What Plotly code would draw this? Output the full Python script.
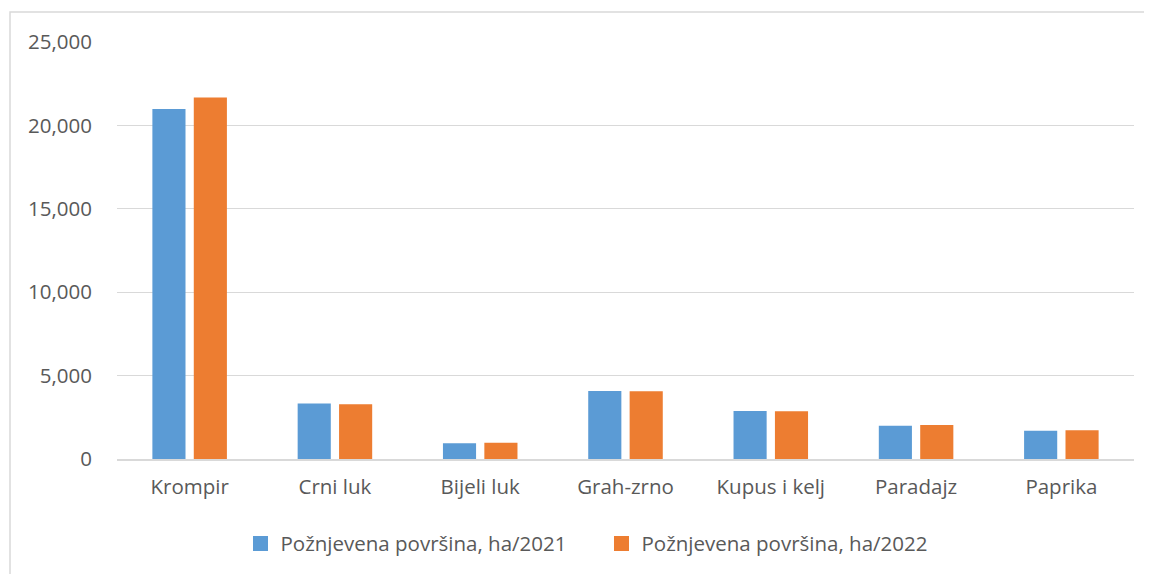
import plotly.graph_objects as go

categories = ["Krompir", "Crni luk", "Bijeli luk", "Grah-zrno", "Kupus i kelj", "Paradajz", "Paprika"]
values_2021 = [20980, 3320, 940, 4080, 2880, 2000, 1700]
values_2022 = [21680, 3280, 980, 4060, 2860, 2040, 1720]
series_names = ["Požnjevena površina, ha/2021", "Požnjevena površina, ha/2022"]
series_colors = ["#5b9bd5", "#ed7d31"]
tick_vals = [0, 5000, 10000, 15000, 20000, 25000]
tick_text = ["0", "5,000", "10,000", "15,000", "20,000", "25,000"]

FONT = "Open Sans, Calibri, sans-serif"
TXT = "#595959"
FS = 20.5

fig = go.Figure()
for vals, name, col in zip([values_2021, values_2022], series_names, series_colors):
    fig.add_trace(go.Bar(x=categories, y=vals, name=name, showlegend=False,
                         marker=dict(color=col, line=dict(width=0))))
# legend entries with larger square swatches
for name, col in zip(series_names, series_colors):
    fig.add_trace(go.Scatter(x=[None], y=[None], mode="markers", name=name,
                             marker=dict(symbol="square", size=15, color=col)))

fig.update_layout(
    width=1152, height=574,
    margin=dict(l=109, r=26, t=34, b=123, autoexpand=False),
    paper_bgcolor="white", plot_bgcolor="white",
    barmode="group", bargap=0.43, bargroupgap=0.2,
    font=dict(family=FONT, size=FS, color=TXT),
    showlegend=True,
    legend=dict(orientation="h", x=0.4764, xanchor="center", y=-0.155, yanchor="top",
                font=dict(size=FS, color=TXT), itemwidth=30, traceorder="normal",
                tracegroupgap=0, entrywidth=316, entrywidthmode="pixels"),
    xaxis=dict(showgrid=False, showline=True, linecolor="#d9d9d9", linewidth=2,
               ticks="", tickfont=dict(size=FS, color=TXT), automargin=False,
               ticklabelstandoff=8),
    yaxis=dict(range=[0, 25000], tickvals=tick_vals, ticktext=tick_text,
               showgrid=True, gridcolor="#d9d9d9", gridwidth=1, zeroline=False,
               showline=False, ticks="", ticklabelstandoff=24, automargin=False,
               tickfont=dict(size=FS, color=TXT)),
    shapes=[dict(type="rect", xref="paper", yref="paper",
                 x0=-0.1052, x1=1.3, y0=-0.5, y1=1.0719,
                 line=dict(color="#d9d9d9", width=1.5), fillcolor="rgba(0,0,0,0)", layer="below")],
)

fig.write_html("out.html")
